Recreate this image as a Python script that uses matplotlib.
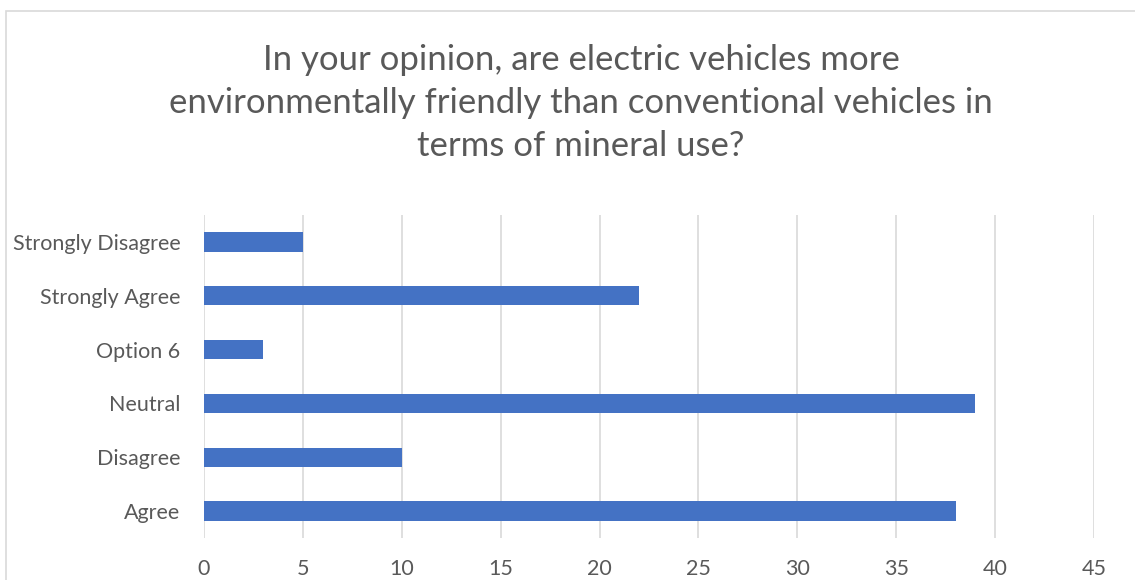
import matplotlib.pyplot as plt
from matplotlib.patches import Rectangle

categories = ["Agree", "Disagree", "Neutral", "Option 6", "Strongly Agree", "Strongly Disagree"]
counts = [38, 10, 39, 3, 22, 5]
x_ticks = [0, 5, 10, 15, 20, 25, 30, 35, 40, 45]
title = ("In your opinion, are electric vehicles more\n"
         "environmentally friendly than conventional vehicles in\n"
         "terms of mineral use?")

W, H = 1135, 580
plt.rcParams['font.family'] = ['Lato', 'DejaVu Sans']
text_color = "#595959"

fig = plt.figure(figsize=(W / 100, H / 100), dpi=100)
fig.patch.set_facecolor("white")

# chart frame
fig.patches.append(Rectangle((6 / W, -0.05), 1.2, 1 - 11 / H + 0.05,
                             transform=fig.transFigure, fill=False,
                             edgecolor="#d9d9d9", linewidth=1.2))

ax = fig.add_axes([204 / W, 1 - 538 / H, (1094 - 204) / W, (538 - 215) / H])
y = range(len(categories))
ax.barh(y, counts, height=0.36, color="#4472C4", zorder=3)
ax.set_xlim(0, 45)
ax.set_ylim(-0.5, len(categories) - 0.5)
ax.set_xticks(x_ticks)
ax.set_yticks(list(y))
ax.set_yticklabels(categories)
ax.grid(axis="x", color="#d9d9d9", linewidth=1.2, zorder=0)
for s in ax.spines.values():
    s.set_visible(False)
ax.tick_params(axis="both", length=0, labelsize=15.5, colors=text_color)
ax.tick_params(axis="x", pad=15)
ax.tick_params(axis="y", pad=17)

fig.text(581 / W, 1 - 103 / H, title, ha="center", va="center",
         fontsize=25, color=text_color, linespacing=1.42)

fig.savefig("out.png", dpi=100)
